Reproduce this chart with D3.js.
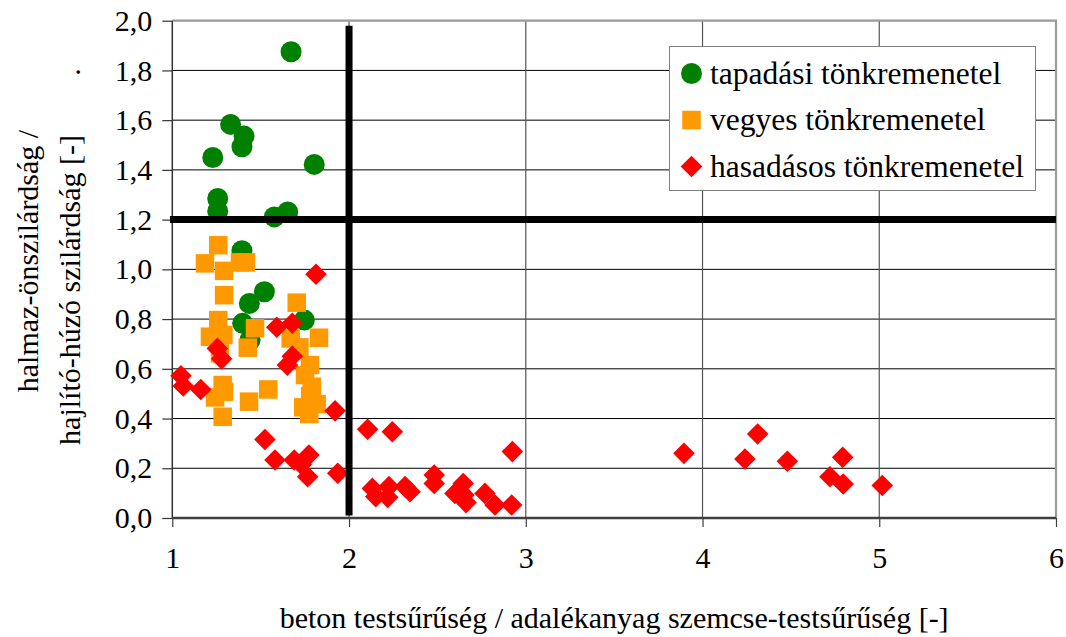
<!DOCTYPE html>
<html>
<head>
<meta charset="utf-8">
<script src="https://cdn.jsdelivr.net/npm/d3@7"></script>
<style>
  html, body { margin: 0; padding: 0; background: #fff; }
  svg { display: block; }
</style>
</head>
<body>
<svg id="chart" width="1066" height="637"></svg>
<script>
// Failure modes: adhesion (green), mixed (orange), splitting (red)
const seriesNames = ["tapadási tönkremenetel", "vegyes tönkremenetel", "hasadásos tönkremenetel"];

const tapadasi = [
  [1.672, 1.875], [1.330, 1.583], [1.406, 1.536], [1.394, 1.493], [1.229, 1.450],
  [1.803, 1.422], [1.257, 1.285], [1.257, 1.234], [1.577, 1.211], [1.653, 1.231],
  [1.394, 1.075], [1.521, 0.910], [1.436, 0.863], [1.747, 0.796], [1.398, 0.783],
  [1.440, 0.716]
];

const vegyes = [
  [1.260, 1.097], [1.185, 1.024], [1.293, 0.994], [1.383, 1.028], [1.417, 1.028],
  [1.293, 0.896], [1.704, 0.866], [1.260, 0.796], [1.213, 0.729], [1.289, 0.736],
  [1.468, 0.763], [1.670, 0.722], [1.830, 0.725], [1.427, 0.685], [1.719, 0.686],
  [1.270, 0.662], [1.779, 0.615], [1.751, 0.575], [1.789, 0.528], [1.285, 0.535],
  [1.242, 0.485], [1.293, 0.508], [1.543, 0.517], [1.434, 0.468], [1.285, 0.407],
  [1.741, 0.445], [1.775, 0.418], [1.817, 0.458], [1.780, 0.490]
];

const hasadasos = [
  [1.049, 0.572], [1.062, 0.531], [1.161, 0.517], [1.813, 0.980], [1.591, 0.767],
  [1.679, 0.783], [1.255, 0.682], [1.279, 0.640], [1.679, 0.651], [1.651, 0.615],
  [1.921, 0.431], [1.524, 0.316], [1.581, 0.233], [1.690, 0.233], [1.773, 0.253],
  [1.730, 0.215], [1.766, 0.166], [1.936, 0.180], [2.105, 0.357], [2.245, 0.347],
  [2.924, 0.267], [2.132, 0.119], [2.151, 0.086], [2.226, 0.126], [2.219, 0.083],
  [2.317, 0.126], [2.345, 0.106], [2.482, 0.173], [2.482, 0.139], [2.599, 0.099],
  [2.646, 0.139], [2.650, 0.092], [2.662, 0.062], [2.769, 0.099], [2.826, 0.052],
  [2.920, 0.052], [3.895, 0.260], [4.312, 0.338], [4.240, 0.237], [4.480, 0.228],
  [4.793, 0.244], [4.721, 0.166], [4.796, 0.137], [5.017, 0.131]
];

// Threshold lines dividing the diagram
const thresholdV = [[2, 0.01], [2, 1.98]];
const thresholdH = [[0.987, 1.2], [6, 1.2]];

const xTicks = [1, 2, 3, 4, 5, 6];
const yTicks = [0, 0.2, 0.4, 0.6, 0.8, 1.0, 1.2, 1.4, 1.6, 1.8, 2.0];

const xTitle = "beton testsűrűség / adalékanyag szemcse-testsűrűség [-]";
const yTitle1 = "halmaz-önszilárdság /";
const yTitle2 = "hajlító-húzó szilárdság [-]";

// Pick the first installed Times-like serif face
function pickFont(candidates) {
  const ctx = document.createElement("canvas").getContext("2d");
  const sample = "tapadási tönkremenetel 0123456789";
  const widthOf = f => { ctx.font = "40px " + f; return ctx.measureText(sample).width; };
  for (const c of candidates) {
    const q = `"${c}"`;
    if (widthOf(`${q}, monospace`) !== widthOf("monospace") ||
        widthOf(`${q}, sans-serif`) !== widthOf("sans-serif")) return q;
  }
  return "serif";
}
const FONT = pickFont(["Liberation Serif", "Times New Roman", "Tinos", "DejaVu Serif", "Noto Serif"]) + ", serif";

const svg = d3.select("#chart");
const plot = { left: 172.3, right: 1056, top: 20.7, bottom: 518 };

const x = d3.scaleLinear().domain([1, 6]).range([plot.left, plot.right]);
const y = d3.scaleLinear().domain([0, 2]).range([plot.bottom, plot.top]);

const huFmt = d3.formatLocale({ decimal: ",", thousands: " ", grouping: [3], currency: ["", ""] }).format(".1f");

// Gridlines
svg.append("g")
  .selectAll("line")
  .data(yTicks.filter(d => d > 0 && d < 2))
  .join("line")
  .attr("x1", plot.left).attr("x2", plot.right)
  .attr("y1", d => y(d)).attr("y2", d => y(d))
  .attr("stroke", "#000").attr("stroke-width", 1);

svg.append("g")
  .selectAll("line")
  .data(xTicks.filter(d => d > 1 && d < 6))
  .join("line")
  .attr("x1", d => x(d)).attr("x2", d => x(d))
  .attr("y1", plot.top).attr("y2", plot.bottom)
  .attr("stroke", "#555").attr("stroke-width", 1.2);

// Plot frame (top and right)
svg.append("path")
  .attr("d", `M${plot.left},${plot.top}H${plot.right}V${plot.bottom}`)
  .attr("fill", "none").attr("stroke", "#9a9a9a").attr("stroke-width", 2.2);

// Axes
const xAxis = d3.axisBottom(x).tickValues(xTicks).tickSize(9).tickPadding(20).tickFormat(d3.format("d"));
const gx = svg.append("g").attr("transform", `translate(0,${plot.bottom})`).call(xAxis);
gx.select(".domain").attr("stroke", "#404040").attr("stroke-width", 2.5).attr("d", `M${plot.left},0H${plot.right}`);
gx.selectAll(".tick line").attr("stroke", "#404040").attr("stroke-width", 1.2);
gx.selectAll(".tick text").attr("font-size", 30).style("font-family", FONT).attr("fill", "#000");

const yAxis = d3.axisLeft(y).tickValues(yTicks).tickSize(10).tickPadding(10).tickFormat(huFmt);
const gy = svg.append("g").attr("transform", `translate(${plot.left},0)`).call(yAxis);
gy.select(".domain").attr("stroke", "#333").attr("stroke-width", 1.5).attr("d", `M0,${plot.top}V${plot.bottom}`);
gy.selectAll(".tick line").attr("stroke", "#333").attr("stroke-width", 1.2);
gy.selectAll(".tick text").attr("font-size", 30).style("font-family", FONT).attr("fill", "#000");

// Markers
const circleR = 10.5, squareS = 18.5, diamondR = 10.8;

svg.append("g").selectAll("circle")
  .data(tapadasi).join("circle")
  .attr("cx", d => x(d[0])).attr("cy", d => y(d[1]))
  .attr("r", circleR).attr("fill", "#008000");

svg.append("g").selectAll("rect")
  .data(vegyes).join("rect")
  .attr("x", d => x(d[0]) - squareS / 2).attr("y", d => y(d[1]) - squareS / 2)
  .attr("width", squareS).attr("height", squareS).attr("fill", "#ff9900");

const diamondPath = r => `M0,${-r}L${r},0L0,${r}L${-r},0Z`;
svg.append("g").selectAll("path")
  .data(hasadasos).join("path")
  .attr("transform", d => `translate(${x(d[0])},${y(d[1])})`)
  .attr("d", diamondPath(diamondR)).attr("fill", "#ff0000");

// Threshold lines
const line = d3.line().x(d => x(d[0])).y(d => y(d[1]));
[thresholdV, thresholdH].forEach(pts => {
  svg.append("path").datum(pts)
    .attr("d", line).attr("fill", "none")
    .attr("stroke", "#000").attr("stroke-width", 7);
});

// Legend
const lg = svg.append("g");
lg.append("rect")
  .attr("x", 669.5).attr("y", 46.5).attr("width", 366).attr("height", 144)
  .attr("fill", "#fff").attr("stroke", "#808080").attr("stroke-width", 1);
const legendRows = [73.5, 120, 166.5];
const mx = 691.5;
lg.append("circle").attr("cx", mx).attr("cy", legendRows[0]).attr("r", circleR).attr("fill", "#008000");
lg.append("rect").attr("x", mx - squareS / 2).attr("y", legendRows[1] - squareS / 2)
  .attr("width", squareS).attr("height", squareS).attr("fill", "#ff9900");
lg.append("path").attr("transform", `translate(${mx},${legendRows[2]})`)
  .attr("d", diamondPath(diamondR)).attr("fill", "#ff0000");
lg.selectAll("text.lbl")
  .data(seriesNames).join("text")
  .attr("class", "lbl")
  .attr("x", 710).attr("y", (d, i) => legendRows[i])
  .attr("dy", "0.33em")
  .attr("font-size", 31.5)
  .style("font-family", FONT)
  .text(d => d);

// Axis titles
svg.append("text")
  .attr("x", (plot.left + 1056) / 2).attr("y", 628)
  .attr("text-anchor", "middle").attr("font-size", 30).style("font-family", FONT)
  .text(xTitle);

svg.append("text")
  .attr("transform", "translate(38,261) rotate(-90)")
  .attr("text-anchor", "middle").attr("font-size", 30).style("font-family", FONT)
  .text(yTitle1);
svg.append("text")
  .attr("transform", "translate(80,135) rotate(-90)")
  .attr("text-anchor", "end").attr("font-size", 30).style("font-family", FONT)
  .text(yTitle2);
svg.append("text")
  .attr("transform", "translate(80,72) rotate(-90)")
  .attr("text-anchor", "middle").attr("font-size", 30).style("font-family", FONT)
  .text(".");
</script>
</body>
</html>
